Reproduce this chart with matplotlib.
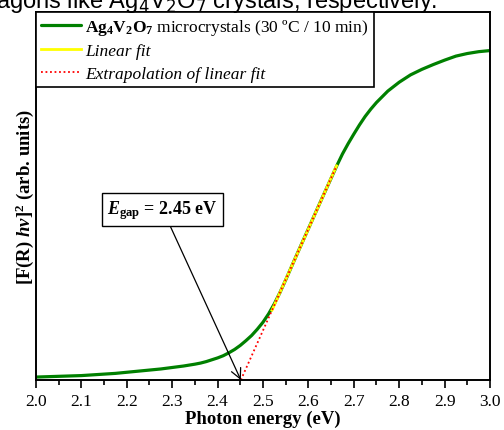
import numpy as np
import matplotlib
matplotlib.use("Agg")
from matplotlib import pyplot as plt

plt.rcParams['font.family'] = ['Liberation Serif', 'DejaVu Serif']
plt.rcParams['mathtext.fontset'] = 'custom'
plt.rcParams['mathtext.rm'] = 'Liberation Serif'
plt.rcParams['mathtext.it'] = 'Liberation Serif:italic'
plt.rcParams['mathtext.bf'] = 'Liberation Serif:bold'
plt.rcParams['mathtext.bfit'] = 'Liberation Serif:bold:italic'

# photon energy (eV) and [F(R) hv]^2
energy = [2.000, 2.025, 2.050, 2.075, 2.100, 2.125, 2.150, 2.175, 2.200, 2.225,
          2.250, 2.275, 2.300, 2.325, 2.350, 2.3625, 2.375, 2.3875, 2.400, 2.4125,
          2.425, 2.4375, 2.450, 2.4625, 2.475, 2.4875, 2.500, 2.5125, 2.525, 2.5375,
          2.550, 2.575, 2.600, 2.625, 2.650, 2.6625, 2.675, 2.6875, 2.700, 2.7125,
          2.725, 2.7375, 2.750, 2.775, 2.800, 2.825, 2.850, 2.875, 2.900, 2.925,
          2.950, 2.975, 3.000]
absorb = [0.008, 0.009, 0.010, 0.011, 0.012, 0.014, 0.016, 0.018, 0.021, 0.024,
          0.027, 0.030, 0.034, 0.038, 0.043, 0.046, 0.050, 0.055, 0.060, 0.066,
          0.074, 0.083, 0.094, 0.107, 0.121, 0.138, 0.157, 0.180, 0.207, 0.238,
          0.272, 0.342, 0.411, 0.480, 0.548, 0.582, 0.614, 0.642, 0.668, 0.693,
          0.716, 0.736, 0.754, 0.785, 0.809, 0.829, 0.844, 0.857, 0.869, 0.880,
          0.887, 0.892, 0.895]

fit_range = (2.52, 2.66)   # region used for the linear fit
fit_end = 2.662
xticks = [2.0, 2.1, 2.2, 2.3, 2.4, 2.5, 2.6, 2.7, 2.8, 2.9, 3.0]

energy = np.array(energy)
absorb = np.array(absorb)
sel = (energy >= 2.545) & (energy <= fit_range[1])
slope, icpt = np.polyfit(energy[sel], absorb[sel], 1)
e_gap = -icpt / slope

fig = plt.figure(figsize=(5.04, 4.31), dpi=100)
ax = fig.add_axes([0.0714, 0.116, 0.9008, 0.854])

ax.plot(energy, absorb, color='#008000', lw=2.3, solid_capstyle='round',
        label=r'$\mathbf{Ag_4V_2O_7}$ microcrystals (30 ºC / 10 min)')
xf = np.array([fit_range[0], fit_end])
ax.plot(xf, slope * xf + icpt, color='#ffff00', lw=2.0, label='Linear fit')
xe = np.array([e_gap, fit_end])
ax.plot(xe, slope * xe + icpt, color='red', lw=1.3, ls=(0, (1, 1.5)),
        label='Extrapolation of linear fit')

ax.annotate(r'$\mathbfit{E}_{\mathbf{gap}}$ = 2.45 eV', xy=(e_gap, 0), xytext=(2.279, 0.463),
            ha='center', va='center', fontsize=13, fontweight='bold',
            bbox=dict(boxstyle='square,pad=0.3', fc='white', ec='black', lw=1.0),
            arrowprops=dict(arrowstyle='->', color='black', lw=0.9, mutation_scale=18,
                            shrinkA=0, shrinkB=0))

ax.set_xlim(2.0, 3.0)
ax.set_ylim(0, 1.0)
ax.set_xticks(xticks)
ax.set_xticks(np.arange(2.05, 3.0, 0.1), minor=True)
ax.set_xticklabels(['%.1f' % t for t in xticks])
ax.set_yticks([])
ax.tick_params(axis='x', which='major', length=6, width=1.2, labelsize=12.5, pad=3)
ax.tick_params(axis='x', which='minor', length=3.5, width=1.2)
for s in ax.spines.values():
    s.set_linewidth(1.4)

ax.set_xlabel('Photon energy (eV)', fontsize=13.5, fontweight='bold', labelpad=1)
ax.set_ylabel(r'[F(R) $\mathbfit{h\nu}$]$^{\mathbf{2}}$ (arb. units)', fontsize=13.5,
              fontweight='bold', labelpad=0)

leg = ax.legend(loc='upper left', borderaxespad=0, fancybox=False, fontsize=12.5,
                handlelength=2.3, handletextpad=0.25, borderpad=0.3, labelspacing=0.35,
                framealpha=1)
leg.get_frame().set_edgecolor('black')
leg.get_frame().set_linewidth(1.2)
for t in leg.get_texts()[1:]:
    t.set_fontstyle('italic')

# clipped caption line from the page above the chart
fig.text(-0.008, 1 - 8 / 431, r'agons like Ag$_4$V$_2$O$_7$ crystals, respectively.',
         fontsize=17, family='Liberation Sans', va='baseline', ha='left',
         math_fontfamily='dejavusans')

fig.savefig('out.png', dpi=100)
